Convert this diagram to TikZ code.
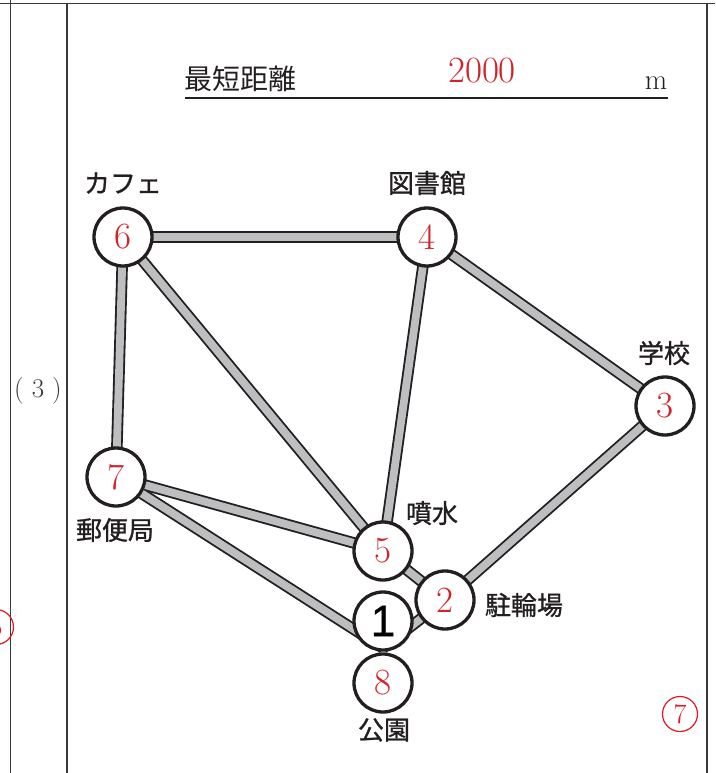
\documentclass[tikz,border=0pt]{standalone}
\usepackage{fontspec}
\newfontfamily\cjk[FakeBold=1.0]{Noto Sans CJK JP}
\newfontfamily\cjkt{Noto Sans CJK JP}
\newfontfamily\hel[FakeBold=0.8]{Liberation Sans}
\definecolor{ink}{HTML}{231F20}
\definecolor{edgegray}{HTML}{BCBEC0}
\definecolor{ansred}{HTML}{D2232A}
\definecolor{markred}{HTML}{E8141E}
\definecolor{framec}{HTML}{3A3A3A}
\begin{document}
\begin{tikzpicture}[x=1pt,y=-1pt,
  vtx/.style={circle, draw=ink, line width=3.3pt, fill=white, minimum size=58pt, inner sep=0pt, text=ansred, font=\fontsize{37}{37}\selectfont},
  lbl/.style={text=ink, font=\cjk\fontsize{26}{26}\selectfont, inner sep=0pt},
  edgeout/.style={line width=11.5pt, draw=ink},
  edgein/.style={line width=7.8pt, draw=edgegray},
  frameline/.style={draw=framec, line width=1.5pt},
  marker/.style={circle, draw=markred, line width=1.2pt, minimum size=35pt, inner sep=0pt, text=markred, font=\fontsize{28}{28}\selectfont}]
\useasboundingbox (0,0) rectangle (715,773);
\clip (0,0) rectangle (715,773);
% frame
\coordinate (tl) at (0,3.5);
\coordinate (tr) at (715,3.5);
\coordinate (a1) at (10.5,0);
\coordinate (a2) at (10.5,773);
\coordinate (b1) at (67,3.5);
\coordinate (b2) at (67,773);
\coordinate (c1) at (707,3.5);
\coordinate (c2) at (707,773);
\draw[frameline] (tl) -- (tr);
\draw[frameline] (a1) -- (a2);
\draw[frameline] (b1) -- (b2);
\draw[frameline] (c1) -- (c2);
\node[text=framec, font=\fontsize{27}{27}\selectfont, inner sep=0pt] (q3) at (38,391) {(\hspace{8pt}3\hspace{8pt})};
% header
\node[text=ink, inner sep=0pt, anchor=base west, font=\cjkt\fontsize{28}{28}\selectfont] (title) at (184,90) {最短距離};
\node[text=ansred, anchor=base, inner sep=0pt, font=\fontsize{37}{37}\selectfont] (ans) at (482,83) {2000};
\node[text=ink, anchor=base, inner sep=0pt, font=\fontsize{29}{29}\selectfont] (unit) at (656,90) {m};
\coordinate (u1) at (185,98);
\coordinate (u2) at (668,98);
\draw[ink, line width=2.5pt] (u1) -- (u2);
% hidden junction behind circles 1 and 8
\coordinate (P) at (383,648);
% node positions
\coordinate (p6) at (123,237);
\coordinate (p4) at (427,237);
\coordinate (p3) at (665,406);
\coordinate (p7) at (116,477);
\coordinate (p5) at (383,551);
\coordinate (p2) at (445,600);
% edges
\foreach \s/\t in {p6/p4, p6/p7, p6/p5, p4/p5, p4/p3, p3/p2, p7/p5, p7/P, p5/p2, p2/P}
  \draw[edgeout] (\s) -- (\t);
\foreach \s/\t in {p6/p4, p6/p7, p6/p5, p4/p5, p4/p3, p3/p2, p7/p5, p7/P, p5/p2, p2/P}
  \draw[edgein] (\s) -- (\t);
% vertices
\node[vtx] (n6) at (p6) {6};
\node[vtx] (n4) at (p4) {4};
\node[vtx] (n3) at (p3) {3};
\node[vtx] (n7) at (p7) {7};
\node[vtx] (n5) at (p5) {5};
\node[vtx] (n2) at (p2) {2};
\node[vtx, text=black, font=\hel\fontsize{44}{44}\selectfont] (n1) at (383,621) {1};
\node[vtx] (n8) at (383,683) {8};
% labels
\node[lbl] (l6) at (123,183) {カフェ};
\node[lbl] (l4) at (427,183) {図書館};
\node[lbl] (l3) at (664,353) {学校};
\node[lbl] (l5) at (432,513) {噴水};
\node[lbl] (l2) at (524,605) {駐輪場};
\node[lbl] (l8) at (384,730) {公園};
\node[lbl] (l7) at (115,530) {郵便局};
% margin marks
\node[marker] (m5) at (-4,627) {5};
\node[marker] (m7) at (680,714) {7};
\end{tikzpicture}
\end{document}
